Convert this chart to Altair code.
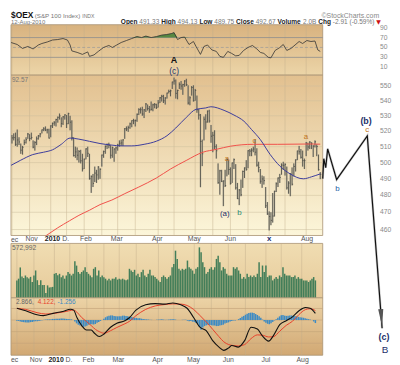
import altair as alt
import pandas as pd

FONT = "Liberation Sans"
W = 315
H_HEAD, H_RSI, H_PRICE, H_GAP, H_VOL, H_MACD = 14, 51, 162, 8, 55, 58

# ---------------- data ----------------
high = [517.5, 518.5, 519.0, 521.0, 516.0, 512.0, 510.5, 514.5, 516.0, 518.8, 518.0, 519.0, 514.0, 513.5, 516.5, 517.5, 518.8, 521.0, 522.5, 523.0, 521.5, 521.5,
        523.8, 525.5, 526.5, 528.0, 529.5, 531.5, 529.0, 529.8, 531.0, 530.5, 532.0, 530.0, 527.0, 516.0, 510.0, 509.5, 507.8, 508.0, 505.5,
        502.5, 509.0, 510.0, 505.5, 492.0, 493.0, 497.5, 495.5, 497.8, 496.5, 505.0, 507.5, 510.8, 512.0, 512.5, 511.0, 510.0, 509.0, 510.0,
        511.8, 514.0, 514.5, 514.8, 522.0, 523.0, 523.5, 525.5, 527.0, 528.0, 527.5, 531.5, 535.0, 535.5, 536.0, 534.5, 538.5, 537.5, 536.5, 539.5, 538.0, 538.5, 538.0,
        540.5, 542.5, 544.0, 544.0, 542.5, 545.5, 547.5, 547.5, 553.0, 555.8, 554.5, 547.5, 552.5, 553.5, 551.5, 554.0, 555.0, 550.5, 543.0, 550.0, 550.5,
        548.0, 543.5, 534.5, 531.2, 514.5, 529.5, 531.0, 533.5, 534.0, 524.0, 519.5, 520.5, 511.5, 499.5, 495.5, 495.5, 489.0, 495.5, 502.5, 502.0,
        497.0, 500.0, 502.5, 499.0, 487.5, 483.8, 489.5, 495.0, 497.0, 501.5, 507.8, 508.5, 509.0, 510.0, 514.7, 509.0, 500.5, 496.0, 492.0, 491.5, 485.0, 476.0,
        470.5, 470.0, 481.4, 482.8, 487.8, 490.8, 493.0, 499.5, 500.5, 499.5, 497.5, 488.5, 493.5, 497.0, 499.5, 502.0, 507.5, 510.5, 508.5, 507.5, 502.5,
        513.0, 512.5, 513.5, 512.8, 511.0, 514.0, 511.5, 505.0, 494.1]
low = [512.0, 514.0, 510.5, 510.0, 511.0, 505.5, 505.0, 511.0, 512.0, 515.0, 513.5, 514.5, 509.0, 507.5, 511.0, 514.5, 516.0, 518.5, 520.0, 520.0, 518.5, 515.2,
       516.0, 522.0, 523.5, 523.0, 525.5, 527.5, 522.5, 524.0, 527.5, 522.0, 524.5, 520.5, 514.0, 503.8, 503.0, 501.5, 500.0, 499.5, 494.5,
       496.0, 502.0, 503.5, 489.5, 481.5, 485.0, 488.0, 487.5, 489.5, 490.0, 497.5, 503.0, 505.5, 508.5, 509.0, 502.5, 503.0, 500.5, 505.5,
       507.5, 510.0, 510.5, 510.5, 515.0, 520.0, 519.5, 521.5, 522.5, 524.5, 523.0, 526.0, 530.5, 531.5, 530.0, 528.5, 532.5, 533.5, 532.0, 533.5, 533.0, 535.0, 534.5,
       535.5, 538.5, 539.5, 538.5, 537.5, 541.5, 545.0, 543.0, 548.0, 551.0, 541.5, 541.0, 548.0, 547.5, 544.0, 549.5, 550.0, 537.5, 537.0, 543.5, 539.5,
       540.0, 532.0, 527.5, 484.9, 497.8, 514.0, 521.0, 525.5, 525.5, 512.5, 506.5, 508.5, 502.5, 487.0, 480.4, 488.0, 473.6, 485.0, 491.5, 492.5,
       486.5, 487.5, 496.0, 483.5, 477.8, 474.2, 479.5, 484.5, 490.5, 495.0, 496.5, 504.0, 504.0, 506.5, 504.5, 497.5, 494.0, 487.0, 484.5, 486.5, 472.5, 468.5,
       459.5, 462.5, 464.0, 467.5, 482.0, 485.0, 487.5, 492.5, 495.5, 492.0, 483.5, 481.0, 479.5, 486.0, 491.5, 494.5, 501.5, 505.0, 502.5, 497.5, 496.0,
       504.0, 507.5, 508.5, 508.5, 503.5, 509.5, 504.0, 495.0, 489.8]
close = [515.6, 515.8, 511.5, 514.3, 513.0, 507.8, 509.6, 512.6, 514.5, 518.1, 515.2, 515.8, 509.7, 512.6, 515.0, 516.9, 518.1, 520.8, 521.4, 520.7, 520.8, 515.5,
         523.4, 525.1, 525.4, 527.5, 529.0, 529.9, 524.9, 529.3, 530.6, 524.8, 531.4, 525.8, 515.8, 504.4, 506.7, 504.6, 507.0, 501.1, 496.1,
         502.1, 508.6, 505.8, 490.1, 491.5, 487.2, 493.5, 492.4, 497.2, 495.8, 504.7, 506.9, 510.2, 511.3, 510.8, 504.6, 509.5, 508.5, 509.2,
         511.0, 512.2, 512.4, 514.3, 521.5, 521.4, 522.3, 524.7, 526.8, 526.7, 526.9, 531.0, 534.1, 534.0, 531.2, 533.9, 537.8, 534.8, 533.9, 534.3, 537.3, 537.4, 535.6,
         538.5, 542.0, 543.0, 540.0, 541.8, 545.2, 546.3, 546.7, 552.8, 553.5, 545.0, 547.0, 551.0, 550.0, 551.0, 553.5, 551.0, 538.5, 542.0, 549.0, 540.0,
         547.0, 534.0, 530.5, 513.3, 505.5, 527.7, 525.9, 533.1, 526.6, 516.7, 517.3, 510.0, 507.4, 487.6, 494.9, 488.5, 488.7, 485.9, 501.9, 495.7,
         487.2, 499.8, 501.8, 484.5, 478.0, 483.2, 480.3, 494.5, 496.7, 495.8, 507.4, 507.2, 507.8, 508.5, 506.5, 498.4, 496.9, 488.5, 489.9, 488.9, 473.8, 469.0,
         467.5, 465.3, 467.8, 482.4, 487.0, 490.5, 490.8, 498.4, 498.3, 498.9, 484.5, 487.4, 493.0, 486.7, 497.6, 501.7, 507.3, 506.8, 503.3, 501.2, 501.2,
         512.3, 509.8, 512.9, 512.2, 510.3, 513.1, 510.1, 495.6, 492.7]
volume = [573, 630, 1000, 700, 650, 735, 680, 640, 690, 520, 735, 900, 580, 420, 580, 420, 420, 160, 410, 340, 350, 360,
          790, 820, 740, 790, 680, 735, 630, 735, 850, 790, 735, 790, 1204, 1060, 850, 790, 850, 900, 1009,
          850, 790, 735, 680, 955, 1009, 735, 900, 680, 735, 680, 630, 573, 630, 573, 630, 630, 680, 600,
          630, 600, 630, 600, 580, 600, 955, 900, 846, 922, 735, 790, 683, 846, 922, 735, 683, 790, 922, 735, 735, 683, 629,
          573, 521, 683, 735, 683, 629, 683, 735, 1009, 1117, 1551, 1280, 955, 900, 955, 922, 955, 1226, 1009, 955, 900,
          792, 955, 1009, 1660, 1497, 1171, 1009, 792, 846, 955, 1009, 922, 1009, 1280, 1388, 1171, 900, 1009, 955, 792,
          735, 735, 735, 1009, 955, 1009, 900, 792, 629, 683, 629, 792, 683, 735, 683, 735, 683, 792, 1171, 683, 1063, 846,
          1063, 683, 735, 735, 573, 629, 683, 629, 735, 683, 1009, 792, 735, 735, 735, 683, 683, 735, 629, 683, 629,
          629, 573, 573, 573, 521, 573, 629, 683, 573]
macd_hist = [-0.3, -0.4, -0.6, -0.8, -0.9, -1.0, -1.1, -1.0, -0.9, -0.8, -0.6, -0.5, -0.5, -0.4, -0.2, -0.1,
             0.1, 0.2, 0.3, 0.3, 0.4, 0.5, 0.5, 0.6, 0.6, 0.6, 0.7, 0.7, 0.6, 0.5, 0.5, 0.3, 0.3,
             0.0, -0.6, -1.4, -2.0, -2.4, -2.7, -2.9, -2.8,
             -2.5, -2.0, -1.8, -1.8, -1.9, -1.7, -1.2, -0.8, -0.4,
             0.0, 0.6, 1.2, 1.6, 1.9, 2.0, 2.0, 1.8, 1.7, 1.6, 1.6, 1.7, 1.9, 1.9, 1.8, 1.6, 1.5, 1.3, 1.2, 1.0,
             0.9, 0.8, 0.8, 0.6, 0.5, 0.4, 0.3, 0.2, 0.1, 0.1, 0.0, 0.0, 0.1,
             0.2, 0.2, 0.3, 0.2, 0.1, 0.1, 0.2, 0.3, 0.4, 0.4, 0.2, 0.0, 0.0, 0.0, 0.1, 0.1, 0.1,
             -0.3, -0.5, -0.4, -0.7, -0.8, -1.3, -1.8, -3.0, -4.2, -3.2,
             -2.6, -2.2, -2.0, -2.1, -2.2, -2.3, -2.3, -2.6, -2.6, -2.4, -2.2, -2.0, -1.5, -1.2, -1.0, -0.6, -0.4,
             -0.2, -0.2, 0.0, 0.4, 0.9, 1.4, 1.8, 2.3, 2.7, 3.0, 3.2, 3.2, 3.0, 2.6, 2.2, 1.6, 1.0, 0.2, -0.6,
             -1.2, -1.6, -1.8, -1.4, -0.8, -0.2,
             0.4, 1.0, 1.6, 2.1, 2.2, 1.9, 1.8, 1.9, 2.0, 2.0, 1.9, 1.8, 1.6, 1.4, 1.2, 1.1, 1.0, 0.8,
             0.6, 0.4, 0.2, 0.0, -0.6, -1.3]

ma50_day = [-0.5, 5, 11.8, 18, 23, 28, 33, 38, 44, 50, 56.7, 62, 68, 75, 82, 88, 93, 99, 104.5, 110, 112.9, 120.4, 126, 131.7, 136, 141, 146.6, 152.2, 157.9, 165.4, 170, 175]
ma50_val = [498.3, 501.5, 505, 506.5, 508, 511.5, 515.5, 514.8, 513.4, 512, 511, 510.5, 510.5, 511.5, 513.5, 517, 522, 529, 534.3, 535.2, 536, 533.6, 530.5, 526.4, 521, 514.5, 505, 497.7, 493, 490, 491.2, 493]
ma200_day = [14, 19.5, 26, 32.6, 38, 44, 50, 56.7, 64, 72, 82, 90, 98.9, 108.4, 116, 124, 137, 150.6, 169, 175]
ma200_val = [453, 456.6, 461, 465, 468.2, 471.2, 474.5, 477.2, 481, 485, 490.5, 496, 501.3, 506.5, 508.3, 510.3, 511.5, 511.5, 511.7, 511.6]

rsi_day = [-0.5, 3, 6, 9, 12, 15, 17, 20, 23, 26, 29, 31.5, 33, 34, 37, 40, 43, 44, 46.6, 49,
           52, 55, 57, 59.5, 62, 65, 68, 71, 73.6, 76, 79, 82, 85, 87.6, 90.4, 92, 94, 96, 98, 100.5,
           103, 104.5, 107, 109, 111, 113.5, 116, 118, 120, 122.5, 124.7, 127, 129, 131.5, 134, 136.5, 139, 141, 143, 145.5,
           147, 149.4, 151.7, 154, 156, 158.4, 160.7, 163, 165, 167.4, 169.7, 172, 173.6, 175]
rsi_val = [60, 56, 48, 52, 47, 55, 58, 61, 65, 66, 68, 65, 55, 43, 40, 36, 41, 32, 35, 42,
           50, 54, 50, 55, 60, 64, 68, 72, 70, 73, 70, 72, 75, 76, 78, 80, 66, 70, 71, 56,
           62, 52, 36, 52, 55, 45, 42, 32, 30, 42, 38, 33, 34, 44, 50, 54, 47, 40, 38, 30,
           29, 44, 49, 56, 44, 48, 55, 62, 58, 64, 62, 63, 45, 42]

macd_day = [0, 5.2, 11.8, 15.5, 21.2, 26.8, 31.5, 33.3, 35.2, 38, 40.8, 43.6, 45.5, 48.3, 51.1, 54.9, 58.6, 63.3, 66.1, 69.8,
            75.5, 81.1, 86.7, 91.4, 96.1, 99.8, 103.6, 107.3, 111, 114.8, 118.5, 121.3, 124.2, 126, 129.8, 133.5, 137.3, 141, 143.8, 147.6,
            150.4, 154.1, 157.9, 161.6, 165.4, 169.1, 171.9, 175]
macd_val = [5.1, 4.0, 2.3, 1.9, 2.9, 3.7, 4.7, 4.3, 1.1, -2.4, -4.3, -4.3, -5.7, -7.1, -6.0, -3.1, -1.4, -0.3, 1.1, 4.3,
            6.6, 7.1, 6.9, 7.4, 6.6, 5.1, 1.1, -3.1, -4.6, -8.9, -11.7, -13.1, -12.0, -11.0, -11.7, -8.9, -3.1, -3.9, -6.7, -9.1,
            -6.7, -2.0, -0.3, 1.4, 4.0, 5.4, 5.1, 2.9]
signal_day = [0, 5.2, 11.8, 17, 22.9, 28, 33.3, 35.2, 38, 40.8, 43.6, 46, 48.3, 51.1, 54.9, 58.6, 63.3, 66.1, 69.8, 75.5,
              81.1, 86.7, 91.4, 96.1, 99.8, 103.6, 107.3, 111, 114.8, 118.5, 121.3, 124.2, 126, 129.8, 133.5, 137.3, 141, 143.8, 147.6, 150.4,
              154.1, 157.9, 161.6, 165.4, 169.1, 171.9, 175]
signal_val = [5.0, 4.6, 3.2, 2.6, 3.0, 3.6, 4.3, 3.4, 1.1, -0.6, -2.4, -4.0, -5.0, -5.7, -4.6, -3.2, -1.6, -0.5, 1.9, 4.6,
              6.1, 6.7, 7.0, 6.9, 6.3, 4.6, 2.0, -0.8, -4.0, -7.2, -9.4, -10.6, -10.9, -11.2, -10.6, -8.0, -6.4, -6.5, -7.3, -7.2,
              -4.8, -2.3, -0.5, 2.4, 4.5, 4.9, 4.1]

proj_day = [176.4, 177, 178.1, 179.2, 184.3, 201.7, 210.1]
proj_val = [490.1, 502.4, 496.8, 508.6, 489.5, 516.9, 406.8]
arrow_day = [209.7]
arrow_val = [412.2]

grid_days = [0, 10, 22, 31, 41, 51, 60, 70, 83, 92, 104, 114, 124, 134, 146, 155, 167]
month_day = [11.2, 30.5, 42, 59.5, 82.5, 103.5, 124, 167.5]
month_text = ["Nov", "D.", "Feb", "Mar", "Apr", "May", "Jun", "Aug"]
year_day = [23]
year_text = ["2010"]
jul_day = [146]
jul_text = ["Jul"]

price_ticks = [460, 470, 480, 490, 500, 510, 520, 530, 540, 550]
rsi_ticks = [90, 70, 50, 30, 10]
macd_grid = [5, 0, -5, -10]

# ---------------- scales ----------------
xs = alt.Scale(domain=[-0.56, 176.4], nice=False, zero=False)
ps = alt.Scale(type="log", domain=[456.6, 557.5], nice=False, zero=False)
rs = alt.Scale(domain=[-6, 96], nice=False, zero=False)
vs = alt.Scale(domain=[0, 1790], nice=False)
ms = alt.Scale(domain=[-15.2, 9.6], nice=False, zero=False)
X = alt.X("i:Q", scale=xs, axis=None)

NAVY = "#23306A"
ORANGE = "#C0741C"
TEAL = "#2C8C76"
BLUE = "#1F5FA8"
LABEL_X = W + 58


def grad(top, bottom):
    return alt.LinearGradient(gradient="linear", x1=0, x2=0, y1=0, y2=1,
                              stops=[alt.GradientStop(offset=0, color=top),
                                     alt.GradientStop(offset=1, color=bottom)])


def background(h, top, bottom):
    return alt.Chart(alt.Data(values=[{"k": 1}])).mark_rect(
        color=grad(top, bottom), stroke="#A89272", strokeWidth=0.8
    ).encode(x=alt.value(0), x2=alt.value(W), y=alt.value(0), y2=alt.value(h))


def vgrid():
    return alt.Chart(pd.DataFrame({"i": grid_days})).mark_rule(
        color="#C2AE8C", strokeWidth=0.6, opacity=0.75).encode(x=X)


def ptext(s, x, y, size, color, weight="normal", align="left", font=FONT):
    return alt.Chart(alt.Data(values=[{"t": s}])).mark_text(
        align=align, baseline="alphabetic", fontSize=size, color=color,
        fontWeight=weight, font=font
    ).encode(x=alt.value(x), y=alt.value(y), text="t:N")


def wlabel(s, day, price, size, color, weight="normal"):
    d = pd.DataFrame({"i": [day], "p": [price], "t": [s]})
    return alt.Chart(d).mark_text(
        fontSize=size, color=color, fontWeight=weight, font=FONT,
        align="center", baseline="middle"
    ).encode(x=X, y=alt.Y("p:Q", scale=ps, axis=None), text="t:N")


def tick_labels(values, scale):
    d = pd.DataFrame({"v": values, "t": [str(v) for v in values]})
    return alt.Chart(d).mark_text(
        fontSize=6.8, color="#8A8A8A", font=FONT, align="left", baseline="middle"
    ).encode(x=alt.value(LABEL_X), y=alt.Y("v:Q", scale=scale, axis=None), text="t:N")


def date_labels(ypix):
    base = alt.Chart(pd.DataFrame({"i": month_day, "t": month_text})).mark_text(
        fontSize=7, color="#555", font=FONT, baseline="middle", align="center"
    ).encode(x=X, y=alt.value(ypix), text="t:N")
    year = alt.Chart(pd.DataFrame({"i": year_day, "t": year_text})).mark_text(
        fontSize=7, color="#222", font=FONT, fontWeight="bold", baseline="middle", align="center"
    ).encode(x=X, y=alt.value(ypix), text="t:N")
    ec = ptext("ec", 0, ypix + 2.5, 7, "#555")
    return [base, year, ec]


# ---------------- header ----------------
L2 = 13.3
header = alt.layer(
    ptext("$OEX", 0, 7.5, 8.5, "#111", "bold"),
    ptext("(S&P 100 Index)", 24, 7.5, 6.3, "#777"),
    ptext("INDX", 72, 7.5, 5.2, "#777"),
    ptext("©StockCharts.com", 372, 7.5, 7, "#888", align="right"),
    ptext("12-Aug-2010", 0, L2, 6, "#777"),
    ptext("Open", 111, L2, 6.6, "#222", "bold"),
    ptext("491.33", 129.7, L2, 6.6, "#777"),
    ptext("High", 151.8, L2, 6.6, "#222", "bold"),
    ptext("494.13", 168.3, L2, 6.6, "#777"),
    ptext("Low", 190.4, L2, 6.6, "#222", "bold"),
    ptext("489.75", 205.4, L2, 6.6, "#777"),
    ptext("Close", 227.5, L2, 6.6, "#222", "bold"),
    ptext("492.67", 247.3, L2, 6.6, "#777"),
    ptext("Volume", 269.4, L2, 6.6, "#222", "bold"),
    ptext("2.0B", 295.1, L2, 6.6, "#777"),
    ptext("Chg", 310.5, L2, 6.6, "#222", "bold"),
    ptext("-2.91 (-0.59%)", 325.2, L2, 6.6, "#777"),
    ptext("▼", 369.2, L2, 6, "#CC1111", font="DejaVu Sans"),
).properties(width=W, height=H_HEAD)

# ---------------- RSI ----------------
rsi_df = pd.DataFrame({"i": rsi_day, "v": rsi_val})
rsi_panel = alt.layer(
    background(H_RSI, "#D8B27F", "#ECD5A8"),
    vgrid(),
    alt.Chart(pd.DataFrame({"v": [70, 30]})).mark_rule(color="#8E8E8E", strokeWidth=0.8).encode(
        y=alt.Y("v:Q", scale=rs, axis=None)),
    alt.Chart(pd.DataFrame({"v": [50]})).mark_rule(color="#9A9A9A", strokeWidth=0.7, strokeDash=[3, 2]).encode(
        y=alt.Y("v:Q", scale=rs, axis=None)),
    alt.Chart(rsi_df).transform_calculate(top="max(datum.v, 70)", base="70").mark_area(
        color="#3F7F35", opacity=0.85).encode(x=X, y=alt.Y("top:Q", scale=rs, axis=None), y2="base:Q"),
    alt.Chart(rsi_df).mark_line(color="#333", strokeWidth=0.8).encode(x=X, y=alt.Y("v:Q", scale=rs, axis=None)),
    tick_labels(rsi_ticks, rs),
).properties(width=W, height=H_RSI)

# ---------------- price ----------------
bars_df = pd.DataFrame({"i": list(range(len(close))), "high": high, "low": low, "close": close})
ma50_df = pd.DataFrame({"i": ma50_day, "v": ma50_val})
ma200_df = pd.DataFrame({"i": ma200_day, "v": ma200_val})
proj_df = pd.DataFrame({"i": proj_day, "v": proj_val})
arrow_df = pd.DataFrame({"i": arrow_day, "v": arrow_val})

hgrid = alt.Chart(pd.DataFrame({"v": price_ticks})).mark_rule(color="#CDBD9E", strokeWidth=0.5).encode(
    y=alt.Y("v:Q", scale=ps, axis=None))
YL = alt.Y("low:Q", scale=ps, axis=None)

price_panel = alt.layer(
    background(H_PRICE, "#E2C08F", "#FCF6DA"),
    vgrid(),
    hgrid,
    alt.Chart(bars_df).mark_rule(color="#A9A698", strokeWidth=1.7, opacity=0.55).encode(x=X, y=YL, y2="high:Q"),
    alt.Chart(bars_df).mark_rule(color="#46463F", strokeWidth=0.8).encode(x=X, y=YL, y2="high:Q"),
    alt.Chart(bars_df).transform_calculate(i2="datum.i + 0.6").mark_rule(color="#46463F", strokeWidth=0.8).encode(
        x=X, x2="i2:Q", y=alt.Y("close:Q", scale=ps, axis=None)),
    alt.Chart(ma200_df).mark_line(color="#F0504A", strokeWidth=1, interpolate="monotone", clip=True).encode(
        x=X, y=alt.Y("v:Q", scale=ps, axis=None)),
    alt.Chart(ma50_df).mark_line(color="#3C3C9C", strokeWidth=1, interpolate="monotone").encode(
        x=X, y=alt.Y("v:Q", scale=ps, axis=None)),
    ptext("92.57", 1, 7, 6.5, "#777"),
    tick_labels(price_ticks, ps),
    alt.Chart(proj_df).mark_line(color="#9A9A9A", strokeWidth=2.4, opacity=0.5).encode(
        x=X, y=alt.Y("v:Q", scale=ps, axis=None)),
    alt.Chart(proj_df).mark_line(color="#111", strokeWidth=1.2).encode(
        x=X, y=alt.Y("v:Q", scale=ps, axis=None)),
    alt.Chart(arrow_df).mark_point(shape="M -0.3 -1 L 0.3 -1 L 0 1 Z", filled=True, size=300, angle=355.6,
                                   color="#555", opacity=1).encode(x=X, y=alt.Y("v:Q", scale=ps, axis=None)),
    wlabel("A", 92, 568, 9, "#111", "bold"),
    wlabel("(c)", 92, 560.3, 8.5, NAVY),
    wlabel("a", 122, 502.4, 8, ORANGE),
    wlabel("(a)", 120.8, 469, 8, NAVY),
    wlabel("b", 129.2, 469.5, 8, TEAL),
    wlabel("c", 137.6, 513.7, 8, ORANGE),
    wlabel("x", 146, 454.5, 8, NAVY, "bold"),
    wlabel("a", 166.9, 516.3, 8, ORANGE),
    wlabel("b", 184.8, 484, 8, BLUE),
    wlabel("c", 201.7, 520.8, 8, ORANGE),
    wlabel("(b)", 201, 526.6, 9, NAVY, "bold"),
    wlabel("(c)", 211.2, 402.4, 9, NAVY, "bold"),
    wlabel("B", 211.8, 395.7, 10, NAVY),
).properties(width=W, height=H_PRICE)

# ---------------- date strip ----------------
gap_panel = alt.layer(*date_labels(4)).properties(width=W, height=H_GAP)

# ---------------- volume ----------------
vol_df = pd.DataFrame({"i": list(range(len(volume))), "v": volume})
vol_panel = alt.layer(
    background(H_VOL, "#F0DDB2", "#E6CA9A"),
    vgrid(),
    alt.Chart(vol_df).mark_bar(size=1.5, color="#437E59").encode(x=X, y=alt.Y("v:Q", scale=vs, axis=None)),
    ptext("572,992", 1, 6.8, 6.8, "#666"),
).properties(width=W, height=H_VOL)

# ---------------- MACD ----------------
hist_df = pd.DataFrame({"i": list(range(len(macd_hist))), "v": macd_hist})
macd_df = pd.DataFrame({"i": macd_day, "v": macd_val})
sig_df = pd.DataFrame({"i": signal_day, "v": signal_val})
MY = alt.Y("v:Q", scale=ms, axis=None)
macd_panel = alt.layer(
    background(H_MACD, "#ECD3A6", "#D1A873"),
    vgrid(),
    alt.Chart(pd.DataFrame({"v": macd_grid})).mark_rule(color="#C2A278", strokeWidth=0.6).encode(y=MY),
    alt.Chart(hist_df).mark_bar(size=1.5, color="#3D8BC4").encode(x=X, y=MY),
    alt.Chart(sig_df).mark_line(color="#E8402A", strokeWidth=1, interpolate="monotone").encode(x=X, y=MY),
    alt.Chart(macd_df).mark_line(color="#111", strokeWidth=1.1, interpolate="monotone").encode(x=X, y=MY),
    ptext("2.866,", 5, 6.5, 6.5, "#666"),
    ptext("4.122,", 27, 6.5, 6.5, "#E8402A"),
    ptext("-1.256", 47, 6.5, 6.5, "#3D8BC4"),
    *date_labels(H_MACD + 4.5),
    alt.Chart(pd.DataFrame({"i": jul_day, "t": jul_text})).mark_text(
        fontSize=7, color="#555", font=FONT, baseline="middle", align="center"
    ).encode(x=X, y=alt.value(H_MACD + 4.5), text="t:N"),
).properties(width=W, height=H_MACD)

chart = alt.vconcat(
    header, rsi_panel, price_panel, gap_panel, vol_panel, macd_panel,
    spacing=0, bounds="flush"
).properties(padding=0).configure_view(stroke="transparent")

chart.save("out.html", embed_options={"renderer": "svg", "actions": False})
